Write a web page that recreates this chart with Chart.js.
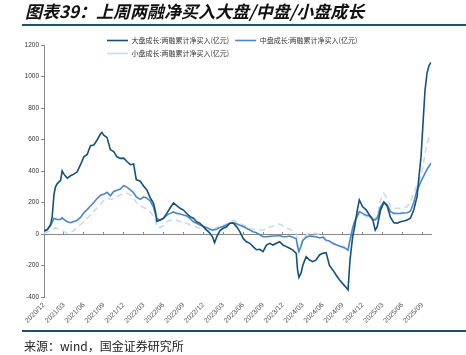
<!DOCTYPE html>
<html><head><meta charset="utf-8">
<script src="https://cdn.jsdelivr.net/npm/chart.js@4"></script>
<style>
html,body{margin:0;padding:0;background:#fff;}
#wrap{position:relative;width:466px;height:355px;overflow:hidden;background:#fff;}
#title{position:absolute;left:25px;top:0px;line-height:22px;font-style:italic;font-weight:bold;font-size:17px;font-family:"Noto Sans CJK SC";color:#111;white-space:nowrap;z-index:2;}
#rule1{position:absolute;left:22px;right:0;top:24px;height:1.5px;background:#1f4e79;z-index:2;}
#rule2{position:absolute;left:22px;right:0;top:330px;height:1.5px;background:#1f4e79;z-index:2;}
#src{position:absolute;left:24px;top:338px;line-height:16px;font-size:12px;font-family:"Noto Sans CJK SC";color:#222;white-space:nowrap;z-index:2;}
canvas{position:absolute;left:0;top:0;}
</style></head>
<body>
<div id="wrap">
  <div id="title">图表39：上周两融净买入大盘/中盘/小盘成长</div>
  <div id="rule1"></div>
  <canvas id="c" width="466" height="355"></canvas>
  <div id="rule2"></div>
  <div id="src">来源：wind，国金证券研究所</div>
</div>
<script>
const seriesNames = ['大盘成长:两融累计净买入(亿元)', '中盘成长:两融累计净买入(亿元)', '小盘成长:两融累计净买入(亿元)'];
const tickLabels = ['2020/12','2021/03','2021/06','2021/09','2021/12','2022/03','2022/06','2022/09','2022/12','2023/03','2023/06','2023/09','2023/12','2024/03','2024/06','2024/09','2024/12','2025/03','2025/06','2025/09'];
const dates = [
 '2020-12-01','2020-12-16','2021-01-01','2021-01-08','2021-01-16','2021-01-23','2021-02-01','2021-02-16','2021-02-23','2021-03-01',
 '2021-03-16','2021-04-01','2021-04-16','2021-05-01','2021-05-16','2021-06-01','2021-06-16','2021-07-01','2021-07-16','2021-08-01',
 '2021-08-16','2021-08-23','2021-09-01','2021-09-16','2021-10-01','2021-10-16','2021-11-01','2021-11-16','2021-12-01','2021-12-16',
 '2022-01-01','2022-01-16','2022-01-28','2022-02-16','2022-03-01','2022-03-16','2022-04-01','2022-04-16','2022-04-25','2022-05-01',
 '2022-05-16','2022-06-01','2022-06-16','2022-07-01','2022-07-16','2022-08-01','2022-08-16','2022-09-01','2022-09-16','2022-10-01',
 '2022-10-16','2022-11-01','2022-11-16','2022-12-01','2022-12-16','2023-01-01','2023-01-13','2023-01-22','2023-02-01','2023-02-16',
 '2023-03-01','2023-03-16','2023-04-01','2023-04-16','2023-05-01','2023-05-16','2023-06-01','2023-06-16','2023-07-01','2023-07-16',
 '2023-08-01','2023-08-16','2023-09-01','2023-09-16','2023-10-01','2023-10-16','2023-11-01','2023-11-16','2023-12-01','2023-12-16',
 '2024-01-01','2024-01-16','2024-02-01','2024-02-07','2024-02-13','2024-02-22','2024-03-01','2024-03-16','2024-04-01','2024-04-16',
 '2024-05-01','2024-05-16','2024-06-01','2024-06-16','2024-07-01','2024-07-16','2024-08-01','2024-08-16','2024-09-01','2024-09-13',
 '2024-09-25','2024-10-04','2024-10-16','2024-10-25','2024-11-07','2024-11-16','2024-12-01','2024-12-16','2025-01-01','2025-01-16',
 '2025-01-28','2025-02-07','2025-02-22','2025-03-07','2025-03-22','2025-04-07','2025-04-22','2025-05-07','2025-05-22','2025-06-07',
 '2025-06-22','2025-07-07','2025-07-22','2025-08-07','2025-08-16','2025-08-25','2025-09-04','2025-09-13','2025-09-22','2025-10-01',
 '2025-10-10'
];
const largeGrowth = [
 20,28,60,110,250,300,320,340,400,380,
 355,370,380,395,440,490,505,560,565,597,
 635,645,628,612,535,523,490,480,482,460,
 440,445,345,335,305,280,230,195,140,80,
 89,100,131,165,197,180,163,152,130,110,
 100,78,68,47,25,5,-20,-55,-20,22,
 36,45,68,70,47,15,-28,-49,-59,-80,
 -100,-97,-112,-70,-59,-70,-59,-49,-70,-80,
 -91,-102,-123,-230,-275,-250,-197,-144,-165,-176,
 -165,-133,-123,-118,-200,-228,-260,-290,-315,-334,
 -355,-165,-17,46,152,216,173,155,122,95,
 25,46,152,200,178,105,72,68,78,83,
 89,100,152,237,370,491,705,914,1020,1070,
 1090
];
const midGrowth = [
 15,28,55,75,100,95,92,92,104,92,
 78,72,80,87,105,135,155,178,200,225,
 245,250,252,265,243,270,278,286,307,298,
 280,262,235,220,235,228,210,170,125,99,
 89,99,120,131,140,131,127,120,114,99,
 78,68,57,47,42,30,25,28,30,42,
 47,57,68,72,65,55,47,36,25,15,
 8,-5,-17,-17,-15,-13,-13,-10,-17,-17,
 -13,-20,-30,-80,-112,-80,-40,-20,-13,-15,
 -17,-25,-20,-40,-45,-59,-68,-76,-84,-91,
 -102,-38,40,80,115,142,131,120,114,92,
 90,100,173,205,184,142,131,130,131,133,
 135,145,200,280,305,335,360,385,410,430,
 449
];
const smallGrowth = [
 4,12,20,25,35,38,35,25,20,15,
 6,10,22,45,60,80,100,122,145,165,
 188,200,212,228,220,226,237,248,258,258,
 248,228,200,180,168,158,140,115,80,40,
 42,57,78,85,89,89,78,72,68,57,
 51,42,36,30,25,21,25,30,42,51,
 57,63,75,88,80,68,57,46,36,30,
 25,25,25,36,45,51,57,63,51,40,
 30,18,4,-60,-95,-70,-30,-8,6,4,
 4,-5,-8,-38,-45,-59,-68,-76,-80,-84,
 -91,-38,30,70,110,131,122,112,100,92,
 100,115,216,258,226,173,163,163,163,168,
 173,205,260,310,330,370,430,510,570,610,
 640
];

// convert a date to months elapsed since 2020-12-01
function monthOffset(s){
  const [y,m,d] = s.split('-').map(Number);
  return (y-2020)*12 + (m-12) + (d-1)/30;
}
const xs = dates.map(monthOffset);
const xMax = xs[xs.length-1];
const pts = arr => arr.map((v,i)=>({x: xs[i], y: v}));

// place the (horizontal) legend over the top of the plot, rows left-aligned
const legendShift = {
  id: 'legendShift',
  afterLayout(chart){
    const lg = chart.legend;
    if (!lg) return;
    lg.left = 101;
    lg.right = chart.width;
    lg.top = chart.chartArea.top - 14;
    lg.bottom = chart.chartArea.top + 30;
  }
};

const tickFmt = v => {
  const k = Math.round(v/3);
  return Math.abs(v - k*3) < 1e-6 && tickLabels[k] ? tickLabels[k] : '';
};

new Chart(document.getElementById('c'), {
  type: 'line',
  data: {
    datasets: [
      {label: seriesNames[0], data: pts(largeGrowth), borderColor: '#16507a', borderWidth: 1.6, pointRadius: 0, tension: 0, fill: false},
      {label: seriesNames[1], data: pts(midGrowth), borderColor: '#4a86c8', borderWidth: 1.6, pointRadius: 0, tension: 0, fill: false},
      {label: seriesNames[2], data: pts(smallGrowth), borderColor: '#c6dcf1', borderWidth: 1.6, borderDash: [6,4], pointRadius: 0, tension: 0, fill: false}
    ]
  },
  options: {
    responsive: false,
    animation: false,
    events: [],
    layout: {padding: {left: 0, right: 35, top: 22, bottom: 28}},
    plugins: {
      title: {display: false},
      tooltip: {enabled: false},
      legend: {
        display: true,
        position: 'top',
        align: 'start',
        maxHeight: 23,
        labels: {
          font: {size: 7, family: '"Noto Sans CJK SC"'},
          color: '#333',
          usePointStyle: true,
          pointStyle: 'line',
          pointStyleWidth: 21,
          boxHeight: 7,
          padding: 6
        }
      }
    },
    scales: {
      x: {
        type: 'linear',
        position: 'bottom',
        min: 0,
        max: xMax,
        afterFit(s){ s.height = 30; },
        grid: {display: false, drawTicks: false},
        border: {display: false},
        ticks: {
          stepSize: 3,
          includeBounds: false,
          autoSkip: false,
          minRotation: 45,
          maxRotation: 45,
          padding: 4,
          font: {size: 7, family: '"Liberation Sans", Arial'},
          color: '#555',
          callback: tickFmt
        }
      },
      x2: {
        type: 'linear',
        axis: 'x',
        position: {y: 0},
        min: 0,
        max: xMax,
        grid: {display: true, drawOnChartArea: false, drawTicks: true, tickLength: -3, tickColor: '#888', lineWidth: 1},
        border: {display: true, color: '#888', width: 1},
        ticks: {display: false, stepSize: 3, includeBounds: false, autoSkip: false}
      },
      y: {
        type: 'linear',
        min: -400,
        max: 1200,
        afterFit(s){ s.width = 44; },
        grid: {display: true, drawOnChartArea: false, drawTicks: true, tickLength: 3, tickColor: '#888'},
        border: {display: true, color: '#888', width: 1},
        ticks: {
          stepSize: 200,
          padding: 2,
          font: {size: 6.5, family: '"Liberation Sans", Arial'},
          color: '#333',
          callback: v => String(v)
        }
      }
    }
  },
  plugins: [legendShift]
});
</script>
</body></html>
